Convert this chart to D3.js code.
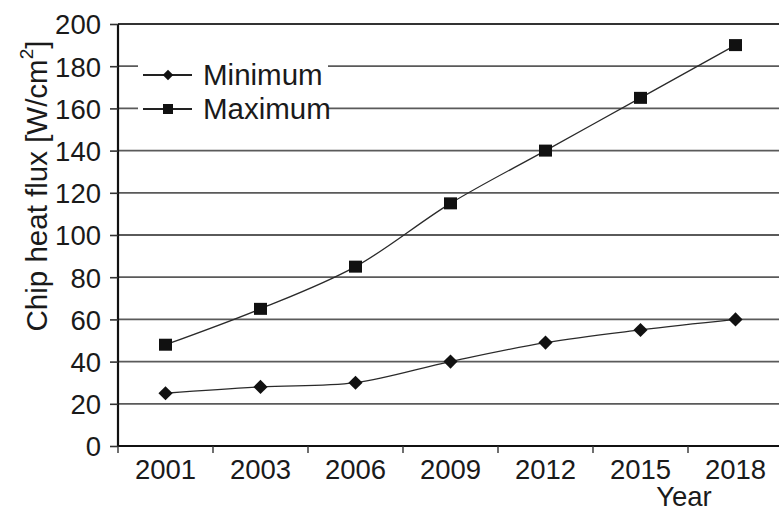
<!DOCTYPE html>
<html><head><meta charset="utf-8">
<script src="https://cdn.jsdelivr.net/npm/d3@7"></script>
<style>body{margin:0;background:#fff}svg{display:block}text{font-family:"Liberation Sans",Arial,sans-serif;fill:#1a1a1a}</style>
</head><body><svg id="c" width="779" height="511"></svg>
<script>
const years = ["2001","2003","2006","2009","2012","2015","2018"];
const minimum = [25,28,30,40,49,55,60];
const maximum = [48,65,85,115,140,165,190];
const yTicks = [0,20,40,60,80,100,120,140,160,180,200];

const svg = d3.select("#c");
const L=118, R=783, T=24, B=446;
const FONT = "Liberation Sans, Arial, sans-serif";
const x = d3.scaleBand().domain(years).range([L,R]);
const y = d3.scaleLinear().domain([0,200]).range([B,T]);

// gridlines
svg.append("g").selectAll("line").data(yTicks.filter(d=>d>0)).join("line")
  .attr("x1",L).attr("x2",779).attr("y1",d=>y(d)).attr("y2",d=>y(d))
  .attr("stroke",d=>d===200?"#333":"#5a5a5a").attr("stroke-width",1.8);

// legend background
svg.append("rect").attr("x",138).attr("y",52).attr("width",190).attr("height",76).attr("fill","#fff");

// y axis
const ya = svg.append("g").attr("transform",`translate(${L},0)`)
  .call(d3.axisLeft(y).tickValues(yTicks).tickSize(8).tickPadding(9));
ya.select(".domain").attr("stroke","#111").attr("stroke-width",2.2).attr("d",`M0,${T}V${B}`);
ya.selectAll(".tick line").attr("stroke","#333").attr("stroke-width",1.6);
ya.selectAll(".tick text").attr("font-size",27.5).attr("fill","#1a1a1a").attr("font-family",FONT).attr("dy","0.36em");

// x axis
const xa = svg.append("g").attr("transform",`translate(0,${B})`)
  .call(d3.axisBottom(x).tickSize(0).tickPadding(14));
xa.select(".domain").attr("stroke","#111").attr("stroke-width",2.2).attr("d",`M${L},0H779`);
xa.selectAll(".tick text").attr("font-size",27.5).attr("fill","#1a1a1a").attr("font-family",FONT).attr("dy","0.68em");
// boundary ticks
svg.append("g").selectAll("line").data(years).join("line")
  .attr("x1",d=>x(d)).attr("x2",d=>x(d)).attr("y1",B).attr("y2",B+7)
  .attr("stroke","#333").attr("stroke-width",1.4);

// lines
const cx = (d,i)=>x(years[i])+x.bandwidth()/2;
const line = d3.line().x(cx).y(d=>y(d)).curve(d3.curveCatmullRom.alpha(0.5));
svg.append("path").attr("d",line(maximum)).attr("fill","none").attr("stroke","#2a2a2a").attr("stroke-width",1.3);
svg.append("path").attr("d",line(minimum)).attr("fill","none").attr("stroke","#2a2a2a").attr("stroke-width",1.3);

svg.append("g").selectAll("rect").data(maximum).join("rect")
  .attr("x",(d,i)=>cx(d,i)-6.5).attr("y",d=>y(d)-6).attr("width",13).attr("height",12).attr("fill","#111");
svg.append("g").selectAll("path").data(minimum).join("path")
  .attr("d",d3.symbol().type(d3.symbolSquare).size(100))
  .attr("transform",(d,i)=>`translate(${cx(d,i)},${y(d)}) rotate(45)`)
  .attr("fill","#111");

// legend
const leg = [{name:"Minimum",y:75,type:"d"},{name:"Maximum",y:109,type:"s"}];
leg.forEach(l=>{
  svg.append("line").attr("x1",143).attr("x2",192).attr("y1",l.y).attr("y2",l.y).attr("stroke","#222").attr("stroke-width",1.8);
  if(l.type==="d") svg.append("path").attr("d",d3.symbol().type(d3.symbolSquare).size(55)()).attr("transform",`translate(168,${l.y}) rotate(45)`).attr("fill","#111");
  else svg.append("rect").attr("x",163).attr("y",l.y-5).attr("width",10).attr("height",10).attr("fill","#111");
  svg.append("text").attr("x",203).attr("y",l.y+10).attr("font-size",29.5).text(l.name);
});

// axis titles
const yl = svg.append("text").attr("transform","translate(47,186) rotate(-90)").attr("text-anchor","middle").attr("font-size",29.5);
yl.append("tspan").text("Chip heat flux [W/cm");
yl.append("tspan").attr("font-size",19).attr("dy",-14).text("2");
yl.append("tspan").attr("dy",14).text("]");
svg.append("text").attr("x",684).attr("y",506).attr("text-anchor","middle").attr("font-size",27.5).text("Year");
</script></body></html>
